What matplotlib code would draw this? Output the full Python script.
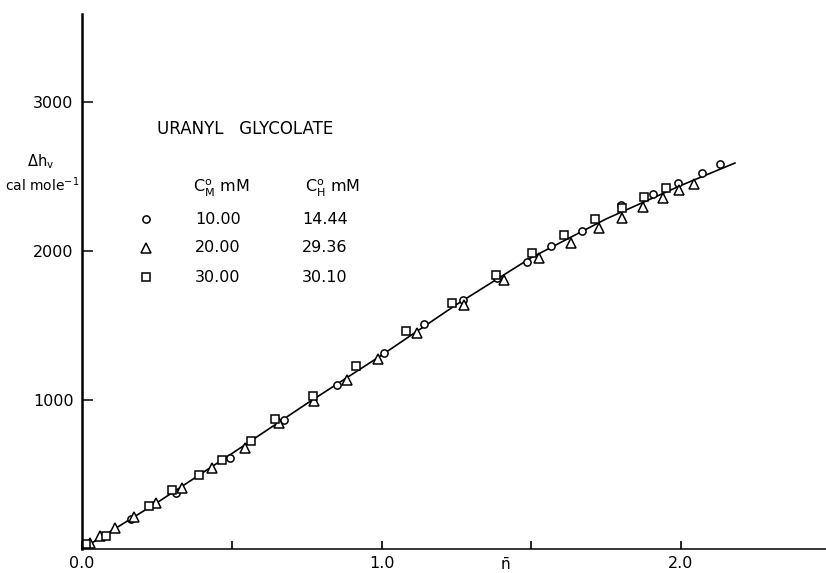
import matplotlib.pyplot as plt
import numpy as np

# n-bar vs Delta h_v
circ_x = [0.165, 0.315, 0.493, 0.676, 0.850, 1.009, 1.142, 1.273, 1.385, 1.485,
          1.566, 1.668, 1.800, 1.905, 1.991, 2.071, 2.130]
circ_y = [199, 378, 608, 866, 1101, 1317, 1508, 1671, 1817, 1928,
          2034, 2134, 2309, 2383, 2454, 2526, 2582]

tri_x = [0.026, 0.061, 0.111, 0.174, 0.248, 0.335, 0.434, 0.543, 0.658, 0.776,
         0.884, 0.987, 1.117, 1.275, 1.410, 1.527, 1.632, 1.726, 1.804, 1.872,
         1.939, 1.994, 2.044]
tri_y = [38, 89, 143, 217, 307, 407, 541, 680, 844, 995,
         1134, 1275, 1452, 1638, 1805, 1951, 2056, 2152, 2223, 2293,
         2358, 2409, 2447]

sq_x = [0.014, 0.081, 0.224, 0.302, 0.390, 0.467, 0.565, 0.644, 0.772, 0.915,
        1.082, 1.234, 1.382, 1.501, 1.610, 1.713, 1.802, 1.876, 1.950]
sq_y = [34, 87, 289, 396, 497, 597, 727, 870, 1027, 1228,
        1463, 1649, 1839, 1984, 2107, 2213, 2287, 2364, 2425]

# fitted curve
fit_x = [0.0, 0.25, 0.5, 0.75, 1.0, 1.25, 1.5, 1.75, 2.0, 2.18]
fit_y = [0, 310, 640, 975, 1300, 1640, 1955, 2215, 2440, 2590]

# legend table
conc_m = ['10.00', '20.00', '30.00']
conc_h = ['14.44', '29.36', '30.10']

plt.rcParams['font.family'] = ['DejaVu Sans']
plt.rcParams['mathtext.fontset'] = 'dejavusans'

W, H = 826, 573
fig = plt.figure(figsize=(8.26, 5.73), dpi=100)
ax = fig.add_axes([82 / W, (H - 549) / H, (W - 82) / W, (549 - 14) / H])

ax.plot(fit_x, fit_y, color='black', lw=1.2)
mk = dict(linestyle='none', mfc='white', mec='black', mew=1.1)
ax.plot(circ_x, circ_y, marker='o', ms=5.2, **mk)
ax.plot(tri_x, tri_y, marker='^', ms=6.5, **mk)
ax.plot(sq_x, sq_y, marker='s', ms=6.3, **mk)

ax.set_xlim(0, 2.484)
ax.set_ylim(0, 3590)
for s in ['top', 'right']:
    ax.spines[s].set_visible(False)
ax.spines['left'].set_linewidth(1.8)
ax.spines['bottom'].set_linewidth(1.1)

ax.set_xticks([0, 0.5, 1.0, 1.5, 2.0])
ax.set_xticklabels(['0.0', '', '1.0', '', '2.0'])
ax.set_yticks([1000, 2000, 3000])
ax.set_yticklabels(['1000', '2000', '3000'])
ax.tick_params(axis='x', direction='in', length=6, width=1.2, labelsize=11.5, pad=5)
ax.tick_params(axis='y', direction='in', length=8, width=1.1, labelsize=11.5, pad=6)

fig.text(505 / W, 1 - 565 / H, r'$\bar{\mathrm{n}}$', ha='center', va='center', fontsize=11)

# y label at the top left
fig.text(41 / W, 1 - 162 / H, r'$\Delta$h$_\mathrm{v}$', ha='center', va='center', fontsize=10.5)
fig.text(42 / W, 1 - 185 / H, r'cal mole$^{-1}$', ha='center', va='center', fontsize=10)

# key
fig.text(157 / W, 1 - 129 / H, 'URANYL   GLYCOLATE', ha='left', va='center', fontsize=12)
fig.text(221 / W, 1 - 188 / H, r'C$^{\mathrm{o}}_{\mathrm{M}}$ mM', ha='center', va='center', fontsize=11.5)
fig.text(333 / W, 1 - 188 / H, r'C$^{\mathrm{o}}_{\mathrm{H}}$ mM', ha='center', va='center', fontsize=11.5)
key_markers = [('o', 5.2), ('^', 6.5), ('s', 6.3)]
for i, ((m, s), cm, ch) in enumerate(zip(key_markers, conc_m, conc_h)):
    yy = 1 - (219 + 29 * i) / H
    ax.plot([146 / W], [yy], marker=m, ms=s, transform=fig.transFigure, clip_on=False, **mk)
    fig.text(218 / W, yy, cm, ha='center', va='center', fontsize=11.5)
    fig.text(325 / W, yy, ch, ha='center', va='center', fontsize=11.5)

fig.savefig('out.png', dpi=100)
